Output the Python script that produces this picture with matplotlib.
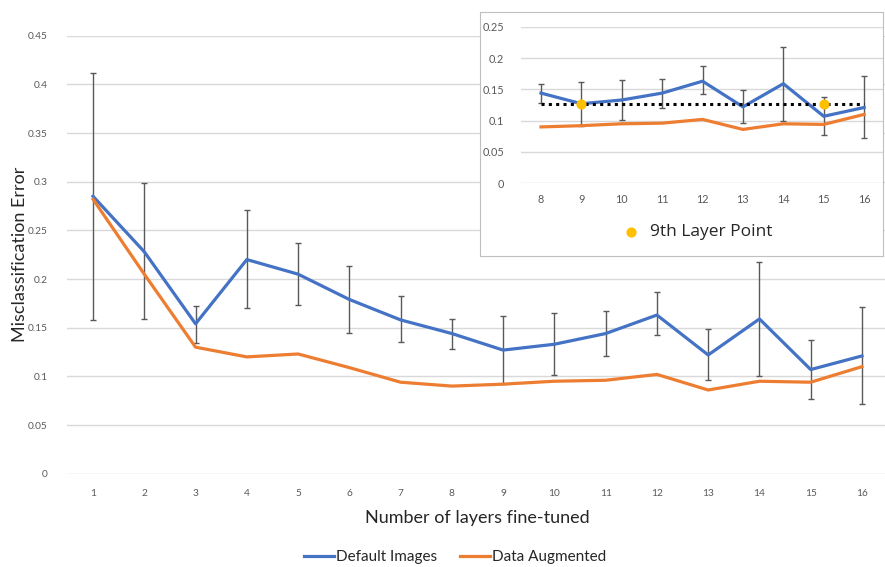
import numpy as np
import matplotlib
matplotlib.use("Agg")
import matplotlib.pyplot as plt
from matplotlib.lines import Line2D

plt.rcParams['font.family'] = ['Lato', 'DejaVu Sans']

# values
layers = list(range(1, 17))
default_images = [0.285, 0.228, 0.154, 0.220, 0.205, 0.179, 0.158, 0.144,
                  0.127, 0.133, 0.144, 0.163, 0.122, 0.159, 0.107, 0.121]
err_top = [0.412, 0.299, 0.172, 0.271, 0.237, 0.213, 0.183, 0.159,
           0.162, 0.165, 0.167, 0.187, 0.149, 0.217, 0.137, 0.171]
err_bottom = [0.158, 0.159, 0.134, 0.170, 0.173, 0.145, 0.135, 0.128,
              0.092, 0.101, 0.121, 0.142, 0.096, 0.100, 0.077, 0.072]
data_augmented = [0.282, 0.205, 0.130, 0.120, 0.123, 0.109, 0.094, 0.090,
                  0.092, 0.095, 0.096, 0.102, 0.086, 0.095, 0.094, 0.110]

main_yticks = [0, 0.05, 0.1, 0.15, 0.2, 0.25, 0.3, 0.35, 0.4, 0.45]
main_ylabels = ['0', '0.05', '0.1', '0.15', '0.2', '0.25', '0.3', '0.35', '0.4', '0.45']
inset_yticks = [0, 0.05, 0.1, 0.15, 0.2, 0.25]
inset_ylabels = ['0', '0.05', '0.1', '0.15', '0.2', '0.25']
inset_first = 8            # inset zooms into layers 8..16
ninth_layer = 9
highlight_layers = [9, 15]

BLUE = '#4472C4'
ORANGE = '#ED7D31'
YELLOW = '#FFC000'
GRAY = '#595959'
GRID = '#D9D9D9'

W, H = 885, 567
fig = plt.figure(figsize=(W / 100, H / 100), dpi=100)


def px_axes(x0, y0, x1, y1, **kw):
    # axes box given in pixel coords (top-left origin)
    return fig.add_axes([x0 / W, 1 - y1 / H, (x1 - x0) / W, (y1 - y0) / H], **kw)


def draw_series(ax, xs, dflt, aug, lo, hi):
    dflt = np.array(dflt)
    yerr = [dflt - np.array(lo), np.array(hi) - dflt]
    ax.errorbar(xs, dflt, yerr=yerr, fmt='none', ecolor=GRAY, elinewidth=1,
                capsize=2.5, capthick=1, zorder=2)
    ax.plot(xs, dflt, color=BLUE, lw=2.3, zorder=3)
    ax.plot(xs, aug, color=ORANGE, lw=2.3, zorder=3)


def style(ax, yticks, ylabels, fs):
    ax.set_yticks(yticks)
    ax.set_yticklabels(ylabels)
    ax.grid(axis='y', color=GRID, lw=1)
    ax.set_axisbelow(True)
    for s in ax.spines.values():
        s.set_visible(False)
    ax.tick_params(length=0, labelsize=fs, colors=GRAY)


# main chart
ax = px_axes(67.4, 35.7, 887.6, 473.7)
draw_series(ax, layers, default_images, data_augmented, err_bottom, err_top)
ax.set_xlim(0.5, 16.5)
ax.set_ylim(0, 0.45)
ax.set_xticks(layers)
style(ax, main_yticks, main_ylabels, 7.3)
ax.tick_params(axis='x', pad=11)
ax.tick_params(axis='y', pad=14)
ax.set_xlabel('Number of layers fine-tuned', fontsize=13, color='#262626', labelpad=9)
fig.text(20 / W, 1 - 254 / H, 'Misclassification Error', rotation=90,
         ha='center', va='center', fontsize=13, color='#262626')

handles = [Line2D([], [], color=BLUE, lw=2.3), Line2D([], [], color=ORANGE, lw=2.3)]
fig.legend(handles, ['Default Images', 'Data Augmented'], loc='center',
           bbox_to_anchor=(455 / W, 1 - 557 / H), ncol=2, frameon=False,
           fontsize=11, handlelength=2, handletextpad=0.1, columnspacing=1.5,
           labelcolor='#262626')

# inset frame
box = px_axes(480, 12, 883, 256)
box.set_xticks([])
box.set_yticks([])
for s in box.spines.values():
    s.set_color('#BFBFBF')
box.set_zorder(5)

i0 = layers.index(inset_first)
ins = px_axes(520.8, 26.7, 883.5, 183.3)
ins.set_zorder(6)
ins.patch.set_alpha(0)
draw_series(ins, layers[i0:], default_images[i0:], data_augmented[i0:],
            err_bottom[i0:], err_top[i0:])
ninth_value = default_images[layers.index(ninth_layer)]
ins.hlines(ninth_value, layers[i0], layers[-1], colors='black', lw=2.2,
           linestyles=(0, (1, 1.4)), zorder=4)
ins.scatter(highlight_layers, [ninth_value] * len(highlight_layers), s=40,
            color=YELLOW, zorder=5, label='9th Layer Point')
ins.set_xlim(7.5, 16.48)
ins.set_ylim(0, 0.25)
ins.set_xticks(layers[i0:])
style(ins, inset_yticks, inset_ylabels, 7.8)
ins.tick_params(axis='x', pad=8)
ins.tick_params(axis='y', pad=12)
ins.legend(loc='center', bbox_to_anchor=(693 / W, 1 - 232 / H),
           bbox_transform=fig.transFigure, frameon=False,
           prop={'family': 'Open Sans', 'size': 12.5},
           handletextpad=0.1, labelcolor='#262626', markerscale=1.0)

fig.savefig('out.png', dpi=100)
